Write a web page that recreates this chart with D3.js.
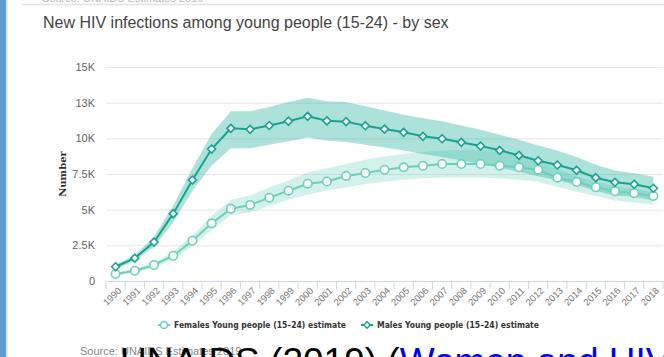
<!DOCTYPE html>
<html><head><meta charset="utf-8">
<script src="https://cdn.jsdelivr.net/npm/d3@7"></script>
<style>
html,body{margin:0;padding:0;background:#fff;overflow:hidden}
svg{display:block;font-family:"Liberation Sans",Arial,sans-serif}
</style></head>
<body>
<svg id="c" width="664" height="357"></svg>
<script>
const years = d3.range(1990, 2019).map(String);
const males = [1000,1600,2730,4720,7080,9250,10700,10630,10900,11200,11540,11230,11170,10880,10650,10420,10140,9970,9720,9460,9160,8810,8430,8130,7760,7240,6920,6780,6500];
const malesLow = [850,1400,2400,4100,6300,8100,9300,9300,9550,9800,10050,9850,9750,9550,9350,9150,8900,8700,8450,8200,7950,7650,7350,7050,6750,6300,6000,5900,5650];
const malesHigh = [1150,1800,3100,5300,7900,10300,11900,11900,12200,12550,12850,12600,12550,12250,11950,11650,11400,11200,10900,10600,10250,9900,9500,9150,8700,8150,7750,7550,7300];
const females = [490,720,1120,1770,2820,4040,5070,5330,5840,6330,6820,6980,7360,7570,7800,7970,8080,8200,8200,8200,8080,7970,7800,7240,6940,6570,6290,6150,5960];
const femalesLow = [400,600,950,1500,2450,3550,4600,4800,5250,5700,6050,6350,6550,6800,6950,7100,7200,7250,7250,7250,7200,7100,6950,6600,6250,5950,5650,5500,5350];
const femalesHigh = [600,850,1300,2050,3200,4550,5700,6000,6550,7050,7600,7900,8200,8500,8750,8900,9050,9150,9200,9200,9100,8800,8400,7850,7350,6950,6650,6450,6250];
const yTicks = [0,2500,5000,7500,10000,12500,15000];
const yTickLabels = ["0","2.5K","5K","7.5K","10K","13K","15K"];
const seriesNames = ["Females Young people (15\u201324) estimate","Males Young people (15\u201324) estimate"];

const svg = d3.select("#c");
const maleColor = "#17a392", femaleColor = "#6dcfbd";

// page chrome
svg.append("rect").attr("x",0).attr("y",0).attr("width",6).attr("height",357).attr("fill","#5f9bd3");
svg.append("rect").attr("x",6).attr("y",0).attr("width",2).attr("height",357).attr("fill","#e8e8e8");
svg.append("line").attr("x1",22).attr("x2",664).attr("y1",4.5).attr("y2",4.5).attr("stroke","#e3e3e3").attr("stroke-width",1.5);
svg.append("text").attr("x",42).attr("y",2).attr("fill","#bbb").attr("font-size",11).text("Source: UNAIDS Estimates 2019");

svg.append("text").attr("x",43).attr("y",28).attr("fill","#444").attr("font-size",16)
  .text("New HIV infections among young people (15-24) - by sex");

const L = 106, R = 663, T = 67, B = 281;
const x = d3.scaleBand().domain(years).range([L,R]);
const y = d3.scaleLinear().domain([0,15000]).range([B,T]);
const cx = d => x(d) + x.bandwidth()/2;

// grid + y labels
const yAxis = d3.axisLeft(y).tickValues(yTicks).tickFormat((d,i)=>yTickLabels[i]).tickSize(-(R-L)).tickPadding(11);
const gy = svg.append("g").attr("transform",`translate(${L},0)`).call(yAxis);
gy.select(".domain").remove();
gy.selectAll(".tick line").attr("stroke","#e6e6e6");
gy.selectAll(".tick text").attr("fill","#666").attr("font-size",11).attr("font-family","Liberation Sans, Arial");

svg.append("text").attr("transform","translate(66,174) rotate(-90)").attr("text-anchor","middle")
  .attr("font-size",10).attr("font-weight","bold").attr("fill","#333").attr("font-family","DejaVu Serif").text("Number");

// x axis
const xAxis = d3.axisBottom(x).tickSize(0).tickFormat(d=>d);
const gx = svg.append("g").attr("transform",`translate(0,${B})`).call(xAxis);
gx.select(".domain").attr("stroke","#ccd6eb");
gx.selectAll(".tick text").attr("fill","#777").attr("font-size",9.5).attr("text-anchor","end")
  .attr("transform","translate(4,8) rotate(-45)").attr("dy","0.35em").attr("y",0).attr("x",0);
// ticks at category boundaries
svg.append("g").selectAll("line").data(years.concat(["end"])).join("line")
  .attr("x1",(d,i)=> i<years.length ? x(d) : R).attr("x2",(d,i)=> i<years.length ? x(d) : R)
  .attr("y1",B).attr("y2",B+8).attr("stroke","#ccd6eb");

// bands
const area = (lo,hi) => d3.area().x((d,i)=>cx(years[i])).y0((d,i)=>y(lo[i])).y1((d,i)=>y(hi[i]));
svg.append("path").datum(years).attr("d",area(femalesLow,femalesHigh)).attr("fill",femaleColor).attr("fill-opacity",0.3);
svg.append("path").datum(years).attr("d",area(malesLow,malesHigh)).attr("fill","#28b3a0").attr("fill-opacity",0.38);

// lines
const line = vals => d3.line().x((d,i)=>cx(years[i])).y((d,i)=>y(vals[i]));
svg.append("path").datum(years).attr("d",line(females)).attr("fill","none").attr("stroke",femaleColor).attr("stroke-width",2);
svg.append("path").datum(years).attr("d",line(males)).attr("fill","none").attr("stroke",maleColor).attr("stroke-width",2);

// markers
svg.append("g").selectAll("circle").data(females).join("circle")
  .attr("cx",(d,i)=>cx(years[i])).attr("cy",d=>y(d)).attr("r",4.2)
  .attr("fill","#fff").attr("stroke",femaleColor).attr("stroke-width",1.6);
const diamond = d3.symbol().type(d3.symbolDiamond2).size(40);
svg.append("g").selectAll("path").data(males).join("path")
  .attr("d",diamond).attr("transform",(d,i)=>`translate(${cx(years[i])},${y(d)})`)
  .attr("fill","#fff").attr("stroke",maleColor).attr("stroke-width",1.6);

// legend
const lg = svg.append("g").attr("font-family","DejaVu Sans Condensed, DejaVu Sans").attr("font-size",9).attr("font-weight","bold").attr("fill","#333");
const legendX = [158, 361];
const legendW = [172, 162];
[0,1].forEach(k=>{
  const col = k===0 ? femaleColor : maleColor;
  const g = lg.append("g").attr("transform",`translate(${legendX[k]},325)`);
  g.append("line").attr("x1",0).attr("x2",12).attr("stroke",col).attr("stroke-width",2);
  if(k===0) g.append("circle").attr("cx",6).attr("r",3.5).attr("fill","#fff").attr("stroke",col).attr("stroke-width",1.5);
  else g.append("path").attr("d",d3.symbol().type(d3.symbolDiamond2).size(28)).attr("transform","translate(6,0)").attr("fill","#fff").attr("stroke",col).attr("stroke-width",1.5);
  g.append("text").attr("x",16).attr("dy","0.35em").attr("textLength",legendW[k]).attr("lengthAdjust","spacingAndGlyphs").text(seriesNames[k]);
});

// footer
svg.append("text").attr("x",80).attr("y",355).attr("fill","#888").attr("font-size",11).text("Source: UNAIDS Estimates 2019");
const big = svg.append("text").attr("x",120).attr("y",374).attr("font-size",37).attr("fill","#000");
big.append("tspan").text("UNAIDS (2019) (");
big.append("tspan").attr("fill","#0000ee").text("Women and HIV");
</script>
</body></html>
